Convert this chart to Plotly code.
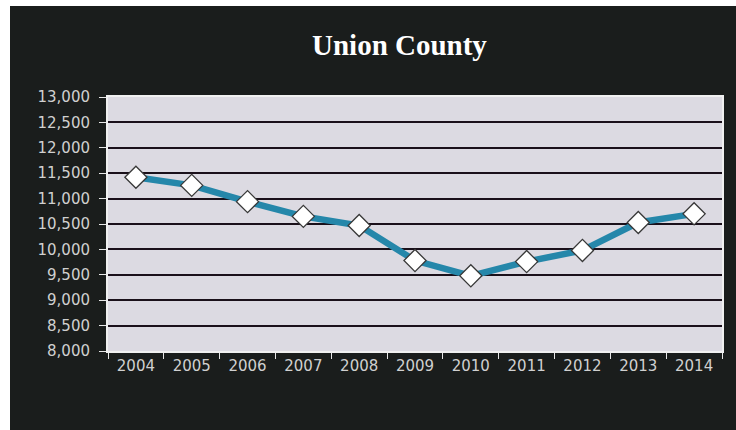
import plotly.graph_objects as go

years = ["2004", "2005", "2006", "2007", "2008", "2009", "2010", "2011", "2012", "2013", "2014"]
values = [11420, 11260, 10940, 10650, 10470, 9780, 9480, 9760, 9980, 10530, 10700]

title_text = "Union County"

W, H = 736, 430
ML, MR, MT, MB = 108, 14, 97, 79
PW = W - ML - MR
PH = H - MT - MB

def px_x(px):
    return (px - ML) / PW

def px_y(py):
    return (H - MB - py) / PH

fig = go.Figure()
fig.add_trace(go.Scatter(
    x=years, y=values, mode="lines+markers",
    line=dict(color="#2587aa", width=6.5),
    marker=dict(symbol="diamond", size=17, color="white",
                line=dict(color="#383838", width=1.3)),
    showlegend=False, cliponaxis=False,
))

fig.update_layout(
    width=W, height=H,
    margin=dict(l=ML, r=MR, t=MT, b=MB),
    paper_bgcolor="#1a1d1c",
    plot_bgcolor="#dcdae2",
    font=dict(family="DejaVu Sans", size=15, color="#d0d0d0"),
    showlegend=False,
)
fig.update_xaxes(
    type="category", range=[-0.5, 10.5],
    tickson="boundaries", ticks="outside", ticklen=6, tickcolor="#e8e8e8", tickwidth=1,
    showline=True, linecolor="#f0f0f0", linewidth=2, mirror=True,
    showgrid=False, tickfont=dict(size=15, color="#d0d0d0"),
)
fig.update_yaxes(
    range=[8000, 13000], dtick=500, tick0=8000, tickformat=",",
    ticks="outside", ticklen=7, tickcolor="#e8e8e8", tickwidth=1,
    showline=True, linecolor="#f0f0f0", linewidth=2, mirror=True,
    showgrid=True, gridcolor="#1a101a", gridwidth=2,
    zeroline=False, ticklabelstandoff=6,
    tickfont=dict(size=15, color="#d0d0d0"),
)

fig.add_annotation(
    text="<b>%s</b>" % title_text, xref="paper", yref="paper",
    x=px_x(399), y=px_y(45), xanchor="center", yanchor="middle",
    showarrow=False, font=dict(family="Liberation Serif", size=29, color="white"),
)

# white scan borders
fig.add_shape(type="rect", xref="paper", yref="paper",
              x0=px_x(-2), x1=px_x(10), y0=px_y(H + 2), y1=px_y(-2),
              fillcolor="white", line=dict(width=0), layer="above")
fig.add_shape(type="rect", xref="paper", yref="paper",
              x0=px_x(-2), x1=px_x(W + 2), y0=px_y(6), y1=px_y(-2),
              fillcolor="white", line=dict(width=0), layer="above")

fig.write_html("out.html")
